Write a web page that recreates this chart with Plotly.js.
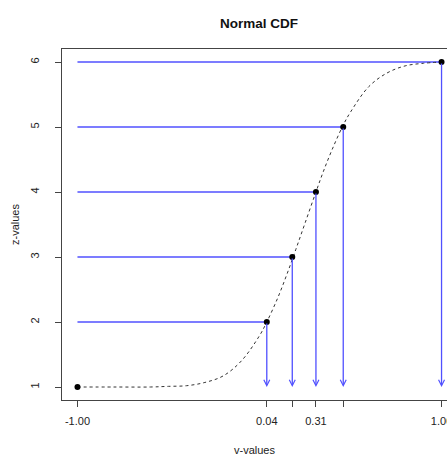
<!DOCTYPE html>
<html><head><meta charset="utf-8">
<script src="https://cdn.plot.ly/plotly-3.0.1.min.js"></script>
<style>html,body{margin:0;padding:0;background:#fff;overflow:hidden}</style>
</head><body><div id="chart" style="width:447px;height:456px"></div>
<script>
// points on the CDF
const vValues = [-1.00, 0.04, 0.18, 0.31, 0.46, 1.00];
const zValues = [1, 2, 3, 4, 5, 6];
// dashed curve
const curveV = [-1.0, -0.8, -0.6, -0.5, -0.4, -0.3, -0.2, -0.1, 0.0, 0.04, 0.1, 0.15, 0.2, 0.25, 0.31, 0.35, 0.4, 0.46, 0.5, 0.6, 0.7, 0.8, 0.9, 1.0];
const curveZ = [1.00, 1.00, 1.00, 1.01, 1.02, 1.07, 1.17, 1.40, 1.79, 2.00, 2.37, 2.73, 3.12, 3.52, 4.00, 4.31, 4.66, 5.03, 5.23, 5.62, 5.83, 5.94, 5.98, 6.00];
// axis ticks
const xTickVals = [-1.00, 0.04, 0.18, 0.31, 0.46, 1.00];
const xTickText = ['-1.00', '0.04', '', '0.31', '', '1.00'];
const yTickVals = [1, 2, 3, 4, 5, 6];
const yTickText = ['1', '2', '3', '4', '5', '6'];
const vStart = -1.00;
const zBottom = 1;

const FONT = '"Liberation Sans", Arial, sans-serif';
const BLUE = '#5050ff';

// horizontal guide lines (skip the first point)
const hx = [], hy = [];
for (let i = 1; i < vValues.length; i++) {
  hx.push(vStart, vValues[i], null);
  hy.push(zValues[i], zValues[i], null);
}

const traces = [
  {x: hx, y: hy, mode: 'lines', line: {color: BLUE, width: 1.3}, hoverinfo: 'skip', showlegend: false},
  {x: curveV, y: curveZ, mode: 'lines', line: {color: '#333', width: 1, dash: '3px,3px', shape: 'spline'}, showlegend: false},
  {x: vValues, y: zValues, mode: 'markers', marker: {color: '#000', size: 6}, showlegend: false}
];

const annotations = [];
for (let i = 1; i < vValues.length; i++) {
  annotations.push({
    x: vValues[i], y: zBottom, ax: vValues[i], ay: zValues[i],
    xref: 'x', yref: 'y', axref: 'x', ayref: 'y',
    text: '', showarrow: true, arrowhead: 5, arrowsize: 0.9, arrowwidth: 1.3,
    arrowcolor: BLUE, standoff: 0, startstandoff: 0
  });
}

const layout = {
  width: 447, height: 456,
  margin: {l: 62, r: 0, t: 49, b: 56},
  paper_bgcolor: '#fff', plot_bgcolor: '#fff',
  font: {family: FONT, size: 11, color: '#222'},
  title: {text: '<b>Normal CDF</b>', font: {family: FONT, size: 13.5, color: '#111'},
          xref: 'paper', x: 0.512, xanchor: 'center', yref: 'container', y: 0.95, yanchor: 'middle'},
  xaxis: {
    range: [-1.085, 1.03], tickvals: xTickVals, ticktext: xTickText,
    showline: true, mirror: true, linecolor: '#444', linewidth: 1,
    ticks: 'outside', ticklen: 6, tickcolor: '#444', tickwidth: 1,
    showgrid: false, zeroline: false, ticklabelstandoff: 5, ticklabeloverflow: 'allow',
    tickfont: {family: FONT, size: 11, color: '#222'},
    title: {text: 'v-values', font: {family: FONT, size: 11, color: '#222'}, standoff: 20}
  },
  yaxis: {
    range: [0.8, 6.2], tickvals: yTickVals, ticktext: yTickText, tickangle: -90,
    showline: true, linecolor: '#444', linewidth: 1,
    ticks: 'outside', ticklen: 6, tickcolor: '#444', tickwidth: 1,
    showgrid: false, zeroline: false, ticklabelstandoff: 12,
    tickfont: {family: FONT, size: 11, color: '#222'},
    title: {text: 'z-values', font: {family: FONT, size: 11, color: '#222'}, standoff: 6}
  },
  annotations: annotations
};

Plotly.newPlot('chart', traces, layout, {staticPlot: true, displayModeBar: false});
</script></body></html>
